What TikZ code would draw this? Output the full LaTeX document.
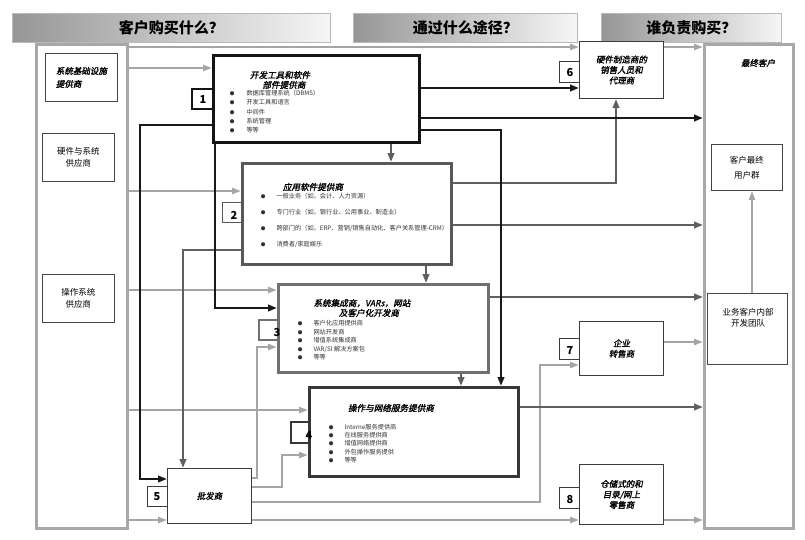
\documentclass[tikz,border=0pt]{standalone}
\usepackage{fontspec}
\setmainfont{Noto Sans CJK SC}
\newfontfamily\slantfont[FakeSlant=0.2,FakeBold=1.5]{Noto Sans CJK SC}
\usepackage{tikz}
\usetikzlibrary{
  arrows.meta,
  backgrounds
}
\newcommand{\itembul}{{\fontsize{4.6}{0}\selectfont ●}}
\definecolor{hdrdark}{RGB}{150, 150, 150}
\definecolor{hdrlight}{RGB}{246, 246, 246}
\definecolor{hdredge}{RGB}{185, 185, 185}
\definecolor{framegray}{RGB}{168, 168, 168}
\definecolor{srcedge}{RGB}{70, 70, 70}
\definecolor{chanedge}{RGB}{60, 60, 60}
\definecolor{itemcolor}{RGB}{50, 50, 50}
\definecolor{lightarrow}{RGB}{165, 165, 165}
\definecolor{midarrow}{RGB}{95, 95, 95}
\definecolor{darkarrow}{RGB}{25, 25, 25}
\definecolor{devedge}{RGB}{20, 20, 20}
\definecolor{appedge}{RGB}{88, 88, 88}
\definecolor{siedge}{RGB}{112, 112, 112}
\definecolor{opsedge}{RGB}{55, 55, 55}
\tikzset{
hdrbar/.style={
  draw=hdredge,
  line width=0.8pt,
  left color=hdrdark,
  right color=hdrlight,
  anchor=north west,
  inner sep=0pt,
  font=\fontsize{15}{18}\selectfont\bfseries
},
colframe/.style={
  draw=framegray,
  line width=3pt,
  anchor=north west,
  inner sep=0pt
},
srcbox/.style={
  draw=srcedge,
  line width=0.9pt,
  fill=white,
  anchor=north west,
  inner sep=0pt,
  align=center,
  font=\fontsize{8.5}{12}\selectfont
},
mainbox/.style={
  line width=2.8pt,
  fill=white,
  anchor=north west,
  inner sep=0pt
},
chanbox/.style={
  draw=chanedge,
  line width=1pt,
  fill=white,
  anchor=north west,
  inner sep=0pt,
  align=center,
  font=\slantfont\fontsize{8.5}{10.5}\selectfont
},
tagbox/.style={
  draw=chanedge,
  line width=1pt,
  fill=white,
  anchor=north west,
  inner sep=0pt
},
tagnum/.style={
  font=\fontsize{11}{12}\selectfont\bfseries,
  inner sep=0pt
},
boxtitle/.style={
  font=\slantfont\fontsize{8.6}{9.8}\selectfont,
  align=center,
  inner sep=0pt
},
itemlist/.style={
  anchor=north west,
  inner sep=0pt,
  text=itemcolor,
  font=\fontsize{6.2}{9.2}\selectfont
},
plaintext/.style={
  font=\fontsize{8.5}{11.5}\selectfont,
  align=center,
  inner sep=0pt
},
lgarrow/.style={
  -{Triangle[length=9pt,width=6pt]},
  line width=2.2pt,
  draw=lightarrow
},
mgarrow/.style={
  -{Triangle[length=9pt,width=6.5pt]},
  line width=2.4pt,
  draw=midarrow
},
bkarrow/.style={
  -{Triangle[length=9pt,width=6.5pt]},
  line width=2.6pt,
  draw=darkarrow
}
}
\begin{document}
\begin{tikzpicture}[x=1pt,y=-1pt]
\useasboundingbox (0,0) rectangle (805,539);

% question bars
\node[hdrbar, minimum width=318pt, minimum height=29pt] (hdrwhat) at (12,13) {客户购买什么？};
\node[hdrbar, minimum width=224pt, minimum height=29pt] (hdrhow) at (353,13) {通过什么途径？};
\node[hdrbar, minimum width=180pt, minimum height=29pt] (hdrwho) at (601,13) {谁负责购买？};

% suppliers column
\node[colframe, minimum width=91pt, minimum height=484pt] (leftcol) at (35,43) {};
\node[srcbox, minimum width=72pt, minimum height=48pt, align=left,
  font=\slantfont\fontsize{8.5}{13}\selectfont] (sysinfra) at (45,53) {系统基础设施\\提供商};
\node[srcbox, minimum width=72pt, minimum height=48pt] (hwsys) at (42,133) {硬件与系统\\供应商};
\node[srcbox, minimum width=72pt, minimum height=48pt] (ossys) at (42,274) {操作系统\\供应商};

% end customer column
\node[colframe, minimum width=89pt, minimum height=484pt] (endcust) at (703,43) {};
\node[plaintext, font=\slantfont\fontsize{8.5}{10}\selectfont] (endcusttitle) at (758,63) {最终客户};
\node[srcbox, minimum width=71pt, minimum height=46pt, font=\fontsize{8.5}{15}\selectfont] (enduser) at (711,144) {客户最终\\用户群};
\node[srcbox, minimum width=80pt, minimum height=71pt] (devteam) at (707,293) {};
\node[plaintext, font=\fontsize{8.5}{11}\selectfont] (devteamtext) at (748,318) {业务客户内部\\开发团队};

% number tags
\node[tagbox, line width=2.4pt, draw=devedge, minimum width=21pt, minimum height=20pt] (tag1) at (191,88) {};
\node[tagbox, draw=appedge, minimum width=19pt, minimum height=20pt] (tag2) at (222,202) {};
\node[tagbox, line width=2.4pt, draw=siedge, minimum width=19pt, minimum height=20pt] (tag3) at (258,319) {};
\node[tagbox, line width=2.4pt, draw=opsedge, minimum width=18pt, minimum height=21pt] (tag4) at (290,421) {};
\node[tagbox, minimum width=20pt, minimum height=20pt] (tag5) at (147,486) {};
\node[tagbox, minimum width=20pt, minimum height=21pt] (tag6) at (559,61) {};
\node[tagbox, minimum width=20pt, minimum height=21pt] (tag7) at (559,338) {};
\node[tagbox, minimum width=20pt, minimum height=21pt] (tag8) at (559,487) {};

% supplier boxes
\node[mainbox, draw=devedge, minimum width=206pt, minimum height=87pt] (box1) at (212,54) {};
\node[mainbox, draw=appedge, minimum width=209pt, minimum height=101pt] (box2) at (241,162) {};
\node[mainbox, draw=siedge, minimum width=210pt, minimum height=88pt] (box3) at (277,283) {};
\node[mainbox, draw=opsedge, minimum width=209pt, minimum height=89pt] (box4) at (308,386) {};

% channel boxes
\node[chanbox, minimum width=84pt, minimum height=55pt] (box5) at (167,468) {批发商};
\node[chanbox, minimum width=84pt, minimum height=57pt] (box6) at (579,41) {硬件制造商的\\销售人员和\\代理商};
\node[chanbox, minimum width=84pt, minimum height=54pt] (box7) at (579,321) {企业\\转售商};
\node[chanbox, minimum width=84pt, minimum height=60pt] (box8) at (579,464) {仓储式的和\\目录/网上\\零售商};

\node[tagnum] (num1) at (203,100) {1};
\node[tagnum] (num2) at (234,215) {2};
\node[tagnum] (num3) at (277,332) {3};
\node[tagnum] (num4) at (309,435) {4};
\node[tagnum] (num5) at (157,497) {5};
\node[tagnum] (num6) at (570,73) {6};
\node[tagnum] (num7) at (570,350) {7};
\node[tagnum] (num8) at (570,499) {8};

% box texts
\node[boxtitle] (box1title) at (280,80) {开发工具和软件\\\hspace*{8pt}部件提供商};
\node[itemlist] (box1list) at (229.7,89) {\begin{tabular}{@{}l@{\hspace{12pt}}l@{}}
  \itembul & 数据库管理系统（DBMS）\\
  \itembul & 开发工具和语言\\
  \itembul & 中间件\\
  \itembul & 系统管理\\
  \itembul & 等等
\end{tabular}};
\node[boxtitle] (box2title) at (313,187) {应用软件提供商};
\node[itemlist, font=\fontsize{6.2}{16}\selectfont] (box2list) at (260.7,187) {\begin{tabular}{@{}l@{\hspace{11pt}}l@{}}
  \itembul & 一般业务（如，会计、人力资源）\\
  \itembul & 专门行业（如，银行业、公用事业、制造业）\\
  \itembul & 跨部门的（如，ERP、营销/销售自动化、客户关系管理-CRM）\\
  \itembul & 消费者/家庭娱乐
\end{tabular}};
\node[boxtitle] (box3title) at (362,308) {系统集成商，VARs，网站\\\hspace*{14pt}及客户化开发商};
\node[itemlist, font=\fontsize{6.2}{8.5}\selectfont] (box3list) at (297.7,319.5) {\begin{tabular}{@{}l@{\hspace{11pt}}l@{}}
  \itembul & 客户化应用提供商\\
  \itembul & 网站开发商\\
  \itembul & 增值系统集成商\\
  \itembul & VAR/SI 解决方案包\\
  \itembul & 等等
\end{tabular}};
\node[boxtitle] (box4title) at (391,408) {操作与网络服务提供商};
\node[itemlist, font=\fontsize{6.2}{8.4}\selectfont] (box4list) at (328.7,423) {\begin{tabular}{@{}l@{\hspace{11pt}}l@{}}
  \itembul & Interne服务提供商\\
  \itembul & 在线服务提供商\\
  \itembul & 增值网络提供商\\
  \itembul & 外包操作服务提供\\
  \itembul & 等等
\end{tabular}};

\begin{scope}[on background layer]
% light grey flows
\draw[lgarrow] (leftcol.east |- 0,47) -- (box6.west |- 0,47);
\draw[lgarrow] (box6.east |- 0,47) -- (endcust.west |- 0,47);
\draw[lgarrow] (leftcol.east |- 0,68) -- (box1.west |- 0,68);
\draw[lgarrow] (leftcol.east |- 0,191) -- (box2.west |- 0,191);
\draw[lgarrow] (leftcol.east |- 0,290) -- (box3.west |- 0,290);
\draw[lgarrow] (leftcol.east |- 0,410) -- (box4.west |- 0,410);
\draw[lgarrow] (leftcol.east |- 0,520) -- (box5.west |- 0,520);
\draw[lgarrow] (box5.east |- 0,478) -| (257,347) -- (box3.west |- 0,347);
\draw[lgarrow] (box5.east |- 0,487) -| (282,455) -- (box4.west |- 0,455);
\draw[lgarrow] (box5.east |- 0,502) -| (540,365) -- (box7.west |- 0,365);
\draw[lgarrow] (box5.east |- 0,520) -- (box8.west |- 0,520);
\draw[lgarrow] (box7.east |- 0,342) -- (endcust.west |- 0,342);
\draw[lgarrow] (box8.east |- 0,520) -- (endcust.west |- 0,520);
\draw[lgarrow] (devteam.north -| 752,0) -- (enduser.south -| 752,0);
% dark grey flows
\draw[mgarrow] (box2.west |- 0,250) -| (box5.north -| 183,0);
\draw[mgarrow] (box1.south -| 391,0) -- (box2.north -| 391,0);
\draw[mgarrow] (box2.south -| 426,0) -- (box3.north -| 426,0);
\draw[mgarrow] (box3.south -| 461,0) -- (box4.north -| 461,0);
\draw[mgarrow] (box2.east |- 0,183) -| (box6.south -| 616,0);
\draw[mgarrow] (box2.east |- 0,225) -- (endcust.west |- 0,225);
\draw[mgarrow] (box3.east |- 0,297) -- (endcust.west |- 0,297);
\draw[mgarrow] (box4.east |- 0,407) -- (endcust.west |- 0,407);
% black flows
\draw[bkarrow] (box1.east |- 0,88) -- (box6.west |- 0,88);
\draw[bkarrow] (box1.east |- 0,118) -- (endcust.west |- 0,118);
\draw[bkarrow] (box1.east |- 0,130) -| (box4.north -| 501,0);
\draw[bkarrow] (box1.west |- 0,125) -| (140,479) -- (box5.west |- 0,479);
\draw[bkarrow] (box1.south -| 215,0) |- (box3.west |- 0,308);
\end{scope}
\end{tikzpicture}
\end{document}
